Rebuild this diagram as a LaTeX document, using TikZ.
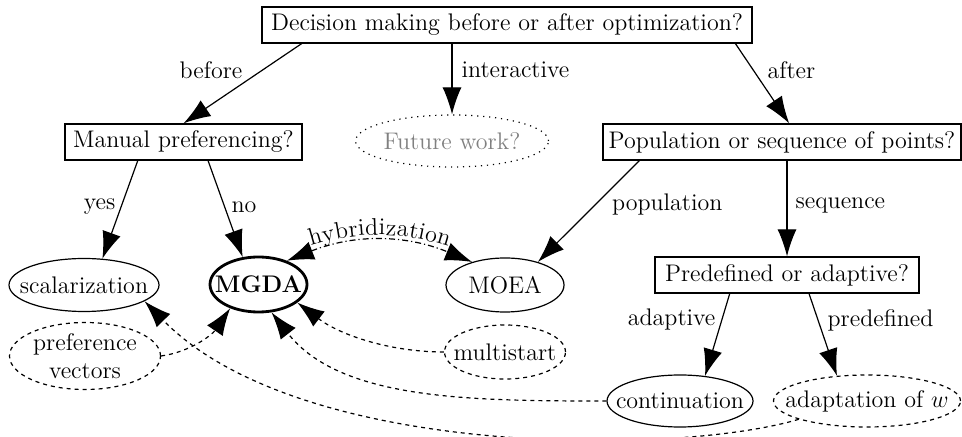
\RequirePackage{fix-cm}
\documentclass[tikz,border=0pt]{standalone}
\usepackage{fontspec}
\usetikzlibrary{shapes.geometric,arrows.meta,calc,decorations.text}
\begin{document}
\begin{tikzpicture}[x=0.5pt,y=-0.5pt,
  font=\fontsize{12}{14}\selectfont,
  line width=0.6pt,
  box/.style={draw,rectangle,inner sep=0pt},
  oval/.style={draw,ellipse,inner sep=0pt},
  dashedoval/.style={oval,dash pattern=on 2pt off 2pt},
  dottedoval/.style={oval,dash pattern=on 0.6pt off 2.4pt},
  edge/.style={-{Latex[length=13.5pt,width=9.5pt]}},
  dedge/.style={edge,dash pattern=on 2pt off 2pt},
  hyb/.style={{Latex[length=13.5pt,width=9.5pt]}-{Latex[length=13.5pt,width=9.5pt]},dash pattern=on 3pt off 1.5pt on 0.6pt off 1.5pt},
  lbl/.style={inner sep=0pt}]
\useasboundingbox (0,0) rectangle (962,437);

% nodes
\node[box,minimum width=245pt,minimum height=18pt] (top) at (507,25) {Decision making before or after optimization?};
\node[box,minimum width=118.5pt,minimum height=18pt] (manual) at (183.5,142) {Manual preferencing?};
\node[dottedoval,minimum width=96.5pt,minimum height=26pt,text=black!50] (future) at (452,141) {\makebox[0pt]{Future work?}};
\node[box,minimum width=179pt,minimum height=18pt] (pop) at (782,142) {Population or sequence of points?};
\node[box,minimum width=132pt,minimum height=18pt] (pred) at (787,275) {Predefined or adaptive?};
\node[oval,minimum width=75pt,minimum height=26.5pt] (scal) at (84,285) {\makebox[0pt]{scalarization}};
\node[oval,line width=1.4pt,minimum width=48.5pt,minimum height=27.5pt] (mgda) at (258.5,284.5) {\makebox[0pt]{\textbf{MGDA}}};
\node[oval,minimum width=59pt,minimum height=27pt] (moea) at (505,285) {\makebox[0pt]{MOEA}};
\node[dashedoval,minimum width=75.5pt,minimum height=33.5pt,align=center] (pref) at (85,356) {preference\\vectors};
\node[dashedoval,minimum width=60.5pt,minimum height=27pt] (multi) at (505,352) {\makebox[0pt]{multistart}};
\node[oval,minimum width=73pt,minimum height=26pt] (cont) at (680,401) {\makebox[0pt]{continuation}};
\node[dashedoval,minimum width=93.5pt,minimum height=26pt] (adapt) at (867,401) {\makebox[0pt]{adaptation of $w$}};

% solid edges
\draw[edge] ($(top.south west)!0.082!(top.south east)$) -- (manual.north);
\draw[edge] (future.north |- top.south) -- (future.north);
\draw[edge] ($(top.south west)!0.965!(top.south east)$) -- ($(pop.north west)!0.52!(pop.north east)$);
\draw[edge] ($(manual.south west)!0.308!(manual.south east)$) -- (scal.55);
\draw[edge] ($(manual.south west)!0.603!(manual.south east)$) -- (mgda.120);
\draw[edge] ($(pop.south west)!0.103!(pop.south east)$) -- (moea.35);
\draw[edge] (pred.north |- pop.south) -- (pred.north);
\draw[edge] ($(pred.south west)!0.284!(pred.south east)$) -- (cont.45);
\draw[edge] ($(pred.south west)!0.583!(pred.south east)$) -- (adapt.140);

% labels
\node[lbl,anchor=east] (lbefore) at (243,70) {before};
\node[lbl,anchor=west] (linter) at (461,70) {interactive};
\node[lbl,anchor=west] (lafter) at (767,70) {after};
\node[lbl,anchor=east] (lyes) at (116,207) {yes};
\node[lbl,anchor=west] (lno) at (231,207) {no};
\node[lbl,anchor=east] (lpop) at (723,205) {population};
\node[lbl,anchor=west] (lseq) at (795,205) {sequence};
\node[lbl,anchor=east] (ladapt) at (716,320) {adaptive};
\node[lbl,anchor=west] (lpred) at (827,320) {predefined};

% hybridization
\draw[hyb] (mgda.40) to[bend left=22] (moea.145);
\path[decorate,decoration={text along path,text={|\fontsize{12}{14}\selectfont|hybridization},text align=center,raise=3pt}] (mgda.40) to[bend left=22] (moea.145);

% dashed edges
\draw[dedge] (pref.east) .. controls (190,352) and (212,335) .. (mgda.-140);
\draw[dedge] (multi.west) .. controls (390,352) and (340,335) .. (mgda.-25);
\draw[dedge] (cont.west) .. controls (470,401) and (340,400) .. (mgda.-65);
\draw[dedge] (adapt.-165) .. controls (680,455) and (300,460) .. (scal.-15);
\end{tikzpicture}
\end{document}
